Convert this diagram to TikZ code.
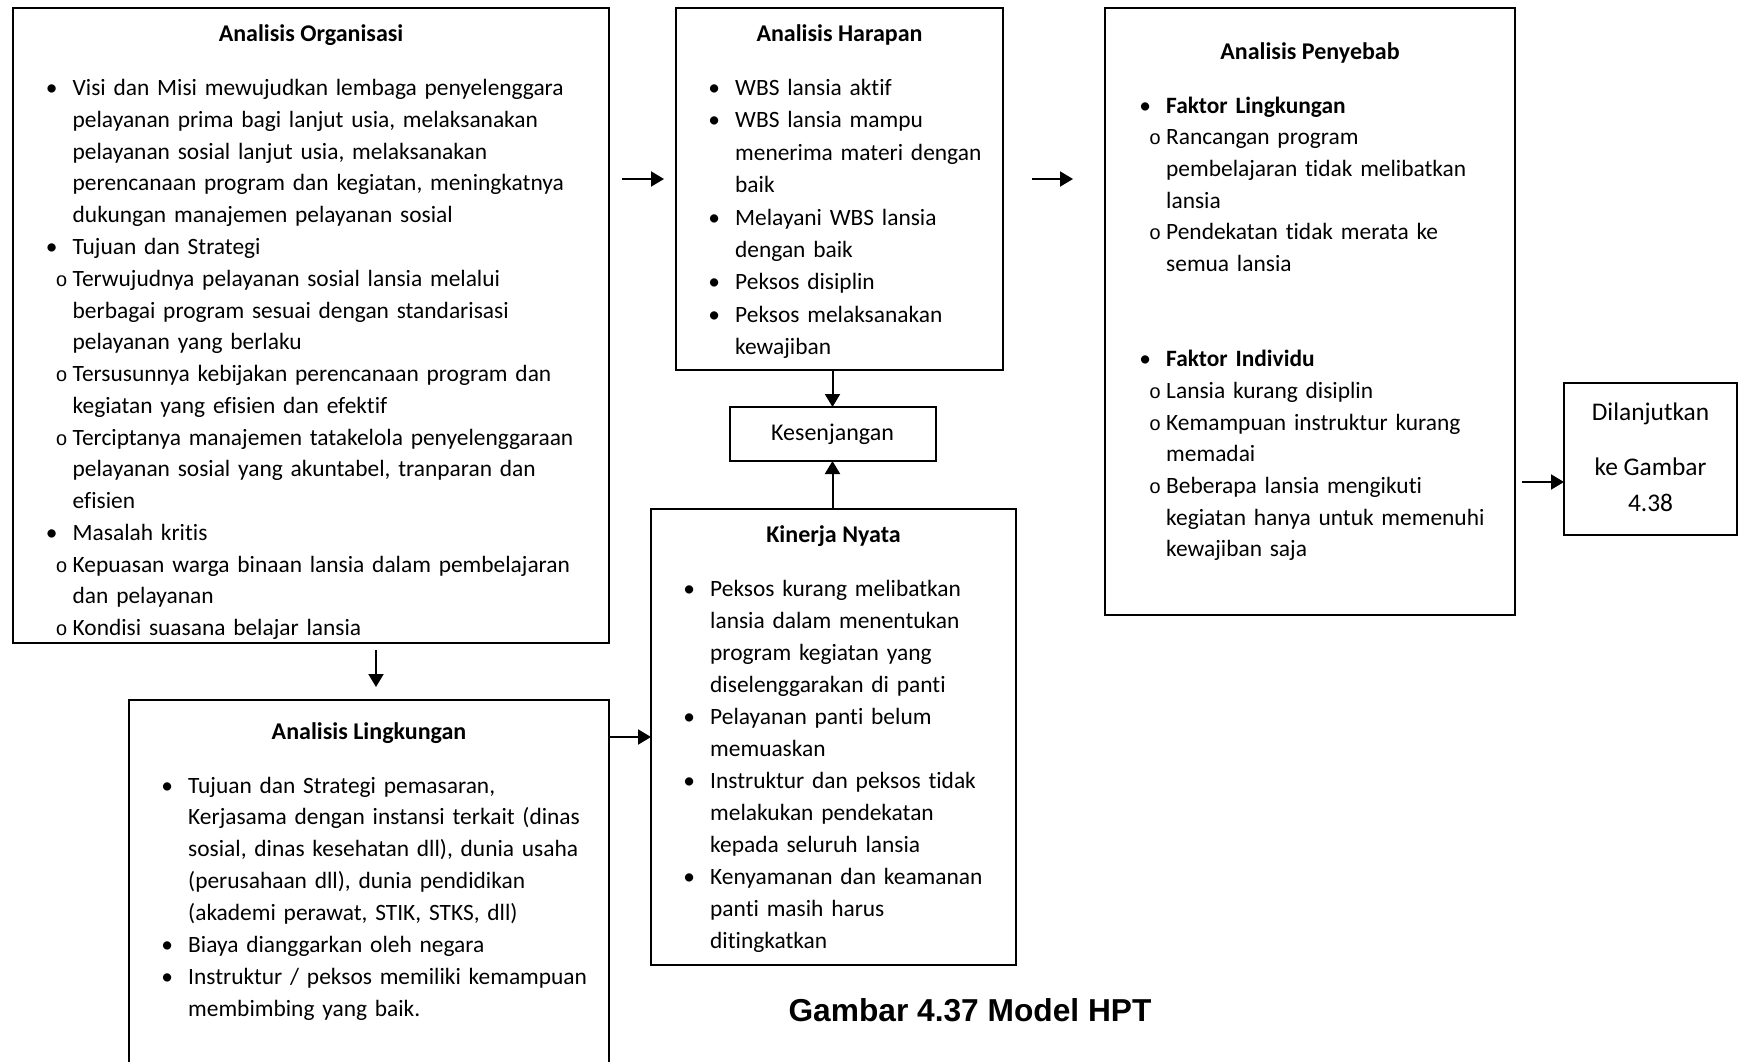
\documentclass[tikz,border=0pt]{standalone}
\usepackage{fontspec}
\setmainfont{Carlito}[Ligatures=NoCommon]
\newfontfamily\capfont{Liberation Sans}
\newfontfamily\ofont{Liberation Mono}
\usetikzlibrary{arrows.meta}

% list markers hanging to the left of the text column
\newcommand\bu{\leavevmode\llap{\makebox[0pt]{\textbullet}\hspace{21pt}}}
\newcommand\ci{\leavevmode\llap{\makebox[0pt]{\fontsize{20}{20}\ofont o}\hspace{11pt}}}

\tikzset{
  box/.style={draw, line width=2pt, inner sep=0pt, outer sep=0pt},
  arr/.style={line width=2pt, -{Triangle[length=13pt,width=15pt]}},
  ttl/.style={font=\fontsize{24}{30}\selectfont\bfseries, anchor=base, inner sep=0pt},
  body/.style={anchor=base west, inner sep=0pt, align=left, text width=800pt},
}

\begin{document}
\begin{tikzpicture}[x=1pt,y=-1pt]
\useasboundingbox (0,0) rectangle (1743,1061);
\clip (0,0) rectangle (1743,1061);

% ---------- boxes ----------
\node[box, minimum width=596pt, minimum height=635pt] (org) at (311,325.5) {};
\node[box, minimum width=480pt, minimum height=380pt] (lingk) at (369,890) {};
\node[box, minimum width=327pt, minimum height=362pt] (har) at (839.5,189) {};
\node[box, minimum width=206pt, minimum height=54pt, font=\fontsize{24}{30}\selectfont] (kes) at (832.5,434) {Kesenjangan};
\node[box, minimum width=365pt, minimum height=456pt] (kin) at (833.5,737) {};
\node[box, minimum width=410pt, minimum height=607pt] (pen) at (1310,311.5) {};
\node[box, minimum width=173pt, minimum height=152pt] (dil) at (1650.5,459) {};

% ---------- Analisis Organisasi ----------
\node[ttl] (orgT) at (311,41.2) {Analisis Organisasi};
\node[body, font=\fontsize{23.4}{31.76}\selectfont] (orgB) at (72.5,95.7) {%
\bu Visi dan Misi mewujudkan lembaga penyelenggara\\
pelayanan prima bagi lanjut usia, melaksanakan\\
pelayanan sosial lanjut usia, melaksanakan\\
perencanaan program dan kegiatan, meningkatnya\\
dukungan manajemen pelayanan sosial\\
\bu Tujuan dan Strategi\\
\ci Terwujudnya pelayanan sosial lansia melalui\\
berbagai program sesuai dengan standarisasi\\
pelayanan yang berlaku\\
\ci Tersusunnya kebijakan perencanaan program dan\\
kegiatan yang efisien dan efektif\\
\ci Terciptanya manajemen tatakelola penyelenggaraan\\
pelayanan sosial yang akuntabel, tranparan dan\\
efisien\\
\bu Masalah kritis\\
\ci Kepuasan warga binaan lansia dalam pembelajaran\\
dan pelayanan\\
\ci Kondisi suasana belajar lansia};

% ---------- Analisis Harapan ----------
\node[ttl] (harT) at (839.5,41.2) {Analisis Harapan};
\node[body, font=\fontsize{23.4}{32.39}\selectfont] (harB) at (735,95.5) {%
\bu WBS lansia aktif\\
\bu WBS lansia mampu\\
menerima materi dengan\\
baik\\
\bu Melayani WBS lansia\\
dengan baik\\
\bu Peksos disiplin\\
\bu Peksos melaksanakan\\
kewajiban};

% ---------- Analisis Penyebab ----------
\node[ttl] (penT) at (1310,59.2) {Analisis Penyebab};
\node[body, font=\fontsize{23.4}{31.7}\selectfont] (penB) at (1166,113) {%
\bu \textbf{Faktor Lingkungan}\\
\ci Rancangan program\\
pembelajaran tidak melibatkan\\
lansia\\
\ci Pendekatan tidak merata ke\\
semua lansia\\[63.4pt]
\bu \textbf{Faktor Individu}\\
\ci Lansia kurang disiplin\\
\ci Kemampuan instruktur kurang\\
memadai\\
\ci Beberapa lansia mengikuti\\
kegiatan hanya untuk memenuhi\\
kewajiban saja};

% ---------- Analisis Lingkungan ----------
\node[ttl] (lingkT) at (369,739.3) {Analisis Lingkungan};
\node[body, font=\fontsize{23.4}{31.97}\selectfont] (lingkB) at (188,793) {%
\bu Tujuan dan Strategi pemasaran,\\
Kerjasama dengan instansi terkait (dinas\\
sosial, dinas kesehatan dll), dunia usaha\\
(perusahaan dll), dunia pendidikan\\
(akademi perawat, STIK, STKS, dll)\\
\bu Biaya dianggarkan oleh negara\\
\bu Instruktur / peksos memiliki kemampuan\\
membimbing yang baik.};

% ---------- Kinerja Nyata ----------
\node[ttl] (kinT) at (833.5,542) {Kinerja Nyata};
\node[body, font=\fontsize{23.4}{32.0}\selectfont] (kinB) at (710,596.5) {%
\bu Peksos kurang melibatkan\\
lansia dalam menentukan\\
program kegiatan yang\\
diselenggarakan di panti\\
\bu Pelayanan panti belum\\
memuaskan\\
\bu Instruktur dan peksos tidak\\
melakukan pendekatan\\
kepada seluruh lansia\\
\bu Kenyamanan dan keamanan\\
panti masih harus\\
ditingkatkan};

% ---------- continuation box text (base = last line) ----------
\node[anchor=base, inner sep=0pt, align=center, font=\fontsize{25.4}{36}\selectfont] (dilT) at (1650.5,511) {Dilanjutkan\\[19pt]ke Gambar\\4.38};

% ---------- connectors ----------
\draw[arr, shorten <=13pt, shorten >=12pt] ([yshift=10pt]har.west -| org.east) -- ([yshift=10pt]har.west);
\draw[arr, shorten <=29pt, shorten >=32pt] ([yshift=10pt]har.east) -- ([yshift=10pt]har.east -| pen.west);
\draw[arr] (har.south -| kes.north) -- (kes.north);
\draw[arr] (kin.north -| kes.south) -- (kes.south);
\draw[arr, shorten <=7pt, shorten >=13pt] (org.south -| 376,0) -- (lingk.north -| 376,0);
\coordinate (lk) at ([yshift=-37pt]lingk.north east);
\draw[arr] (lk) -- (lk -| kin.west);
\draw[arr, shorten <=7pt] ([yshift=-23pt]dil.west -| pen.east) -- ([yshift=-23pt]dil.west);

% ---------- caption ----------
\node[anchor=base, inner sep=0pt, font=\capfont\bfseries\fontsize{31.7}{38}\selectfont] (cap) at (970,1021) {Gambar 4.37 Model HPT};
\end{tikzpicture}
\end{document}
